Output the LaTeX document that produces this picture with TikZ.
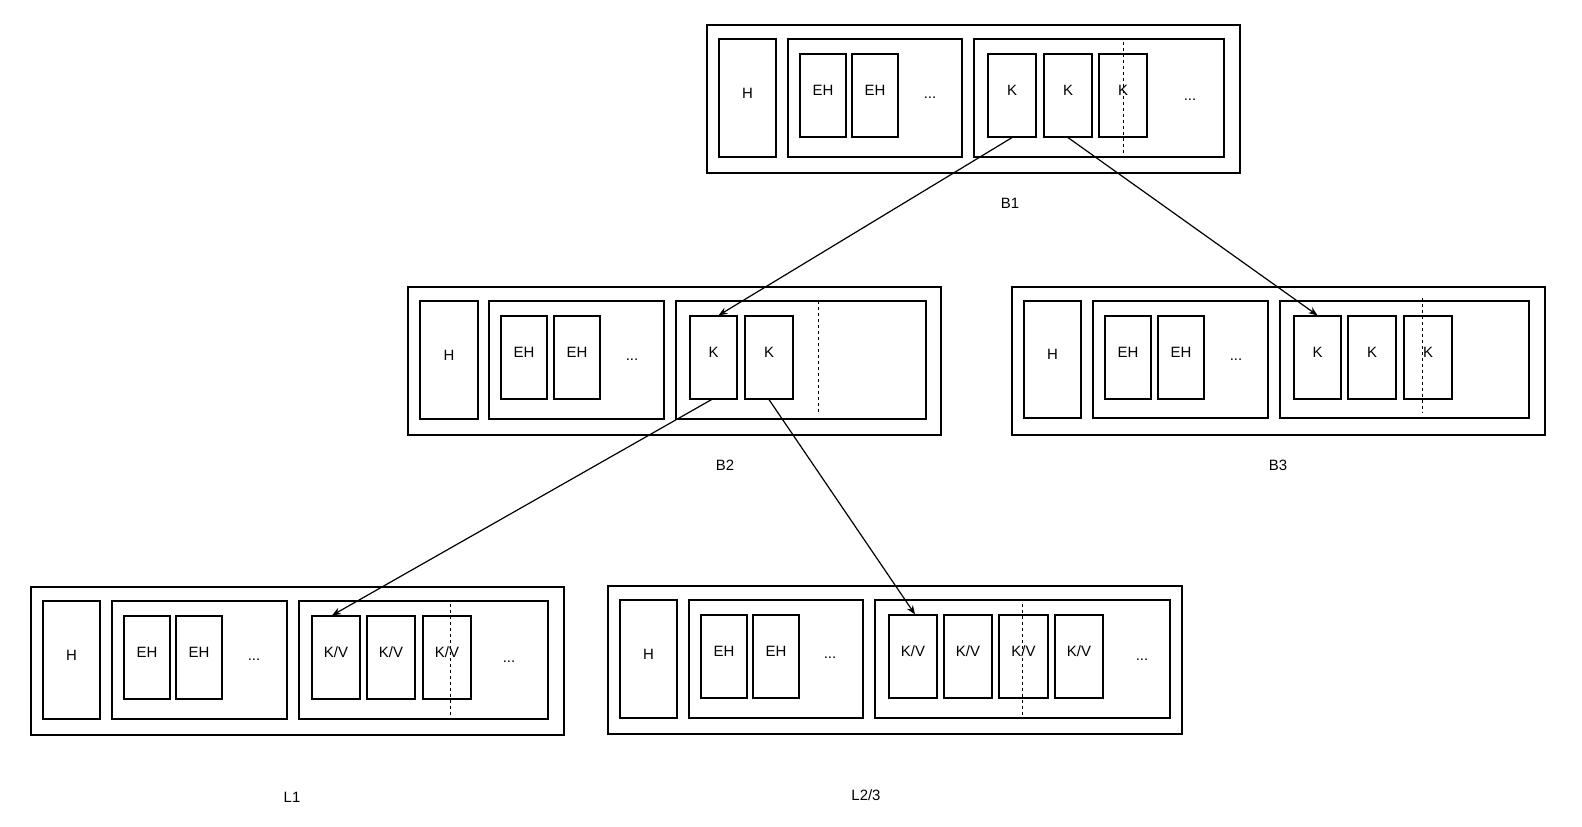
\documentclass[tikz,border=0pt]{standalone}
\usepackage{fontspec}
\setmainfont{Liberation Sans}
\usetikzlibrary{fit,arrows.meta}
\newcommand{\bx}[6]{\node[bx,fit={(#2,#3)(#4,#5)}] (#1) {#6};}
\begin{document}
\begin{tikzpicture}[x=1bp,y=-1bp,
  bx/.style={draw,line width=1.2bp,inner sep=0pt,font=\fontsize{15}{15}\selectfont},
  lbl/.style={font=\fontsize{15}{15}\selectfont},
  dsh/.style={dashed,line width=1bp},
  arr/.style={line width=1.2bp,-{Stealth[length=9bp,width=7bp]}}]
\useasboundingbox (0,0) rectangle (1582,826);
% B1
\bx{b1}{707}{25}{1240}{173}{}
\bx{b1h}{719}{39}{776}{157}{H}
\bx{b1e}{788}{39}{962}{157}{}
\bx{b1e1}{800}{54}{846}{137}{EH}
\bx{b1e2}{852}{54}{898}{137}{EH}
\node[lbl] (b1ed) at (930,98) {...};
\bx{b1k}{974}{39}{1224}{157}{}
\bx{b1k1}{988}{54}{1036}{137}{K}
\bx{b1k2}{1044}{54}{1092}{137}{K}
\bx{b1k3}{1099}{54}{1147}{137}{K}
\draw[dsh] (1123,42) -- (1123,157);
\node[lbl] (b1kd) at (1190,100) {...};
\node[lbl] (b1l) at (1010,203) {B1};
% B2
\bx{b2}{408}{287}{941}{435}{}
\bx{b2h}{420}{301}{478}{419}{H}
\bx{b2e}{489}{301}{664}{419}{}
\bx{b2e1}{501}{316}{547}{399}{EH}
\bx{b2e2}{554}{316}{600}{399}{EH}
\node[lbl] (b2ed) at (632,360) {...};
\bx{b2k}{676}{301}{926}{419}{}
\bx{b2k1}{690}{316}{737}{399}{K}
\bx{b2k2}{745}{316}{793}{399}{K}
\draw[dsh] (818,301) -- (818,412);
\node[lbl] (b2l) at (725,465) {B2};
% B3
\bx{b3}{1012}{287}{1545}{435}{}
\bx{b3h}{1024}{301}{1081}{418}{H}
\bx{b3e}{1093}{301}{1268}{418}{}
\bx{b3e1}{1105}{316}{1151}{399}{EH}
\bx{b3e2}{1158}{316}{1204}{399}{EH}
\node[lbl] (b3ed) at (1236,360) {...};
\bx{b3k}{1280}{301}{1529}{418}{}
\bx{b3k1}{1294}{316}{1341}{399}{K}
\bx{b3k2}{1348}{316}{1396}{399}{K}
\bx{b3k3}{1404}{316}{1452}{399}{K}
\draw[dsh] (1422,298) -- (1422,412);
\node[lbl] (b3l) at (1278,465) {B3};
% L1
\bx{l1}{31}{587}{564}{735}{}
\bx{l1h}{43}{601}{100}{719}{H}
\bx{l1e}{112}{601}{287}{719}{}
\bx{l1e1}{124}{616}{170}{699}{EH}
\bx{l1e2}{176}{616}{222}{699}{EH}
\node[lbl] (l1ed) at (254,660) {...};
\bx{l1k}{299}{601}{548}{719}{}
\bx{l1k1}{312}{616}{360}{699}{K/V}
\bx{l1k2}{367}{616}{415}{699}{K/V}
\bx{l1k3}{423}{616}{471}{699}{K/V}
\draw[dsh] (450,604) -- (450,719);
\node[lbl] (l1kd) at (509,662) {...};
\node[lbl] (l1l) at (292,797) {L1};
% L2/3
\bx{l2}{608}{586}{1182}{734}{}
\bx{l2h}{620}{600}{677}{718}{H}
\bx{l2e}{689}{600}{863}{718}{}
\bx{l2e1}{701}{615}{747}{698}{EH}
\bx{l2e2}{753}{615}{799}{698}{EH}
\node[lbl] (l2ed) at (830,658) {...};
\bx{l2k}{875}{600}{1170}{718}{}
\bx{l2k1}{889}{615}{937}{698}{K/V}
\bx{l2k2}{944}{615}{992}{698}{K/V}
\bx{l2k3}{999}{615}{1048}{698}{K/V}
\bx{l2k4}{1055}{615}{1103}{698}{K/V}
\draw[dsh] (1022,604) -- (1022,718);
\node[lbl] (l2kd) at (1142,660) {...};
\node[lbl] (l2l) at (866,795) {L2/3};
% arrows
\draw[arr] (b1k1.south) -- ([xshift=5bp]b2k1.north);
\draw[arr] (b1k2.south) -- (b3k1.north);
\draw[arr] ([xshift=-2bp]b2k1.south) -- ([xshift=-4bp]l1k1.north);
\draw[arr] (b2k2.south) -- ([xshift=2bp]l2k1.north);
\end{tikzpicture}
\end{document}
